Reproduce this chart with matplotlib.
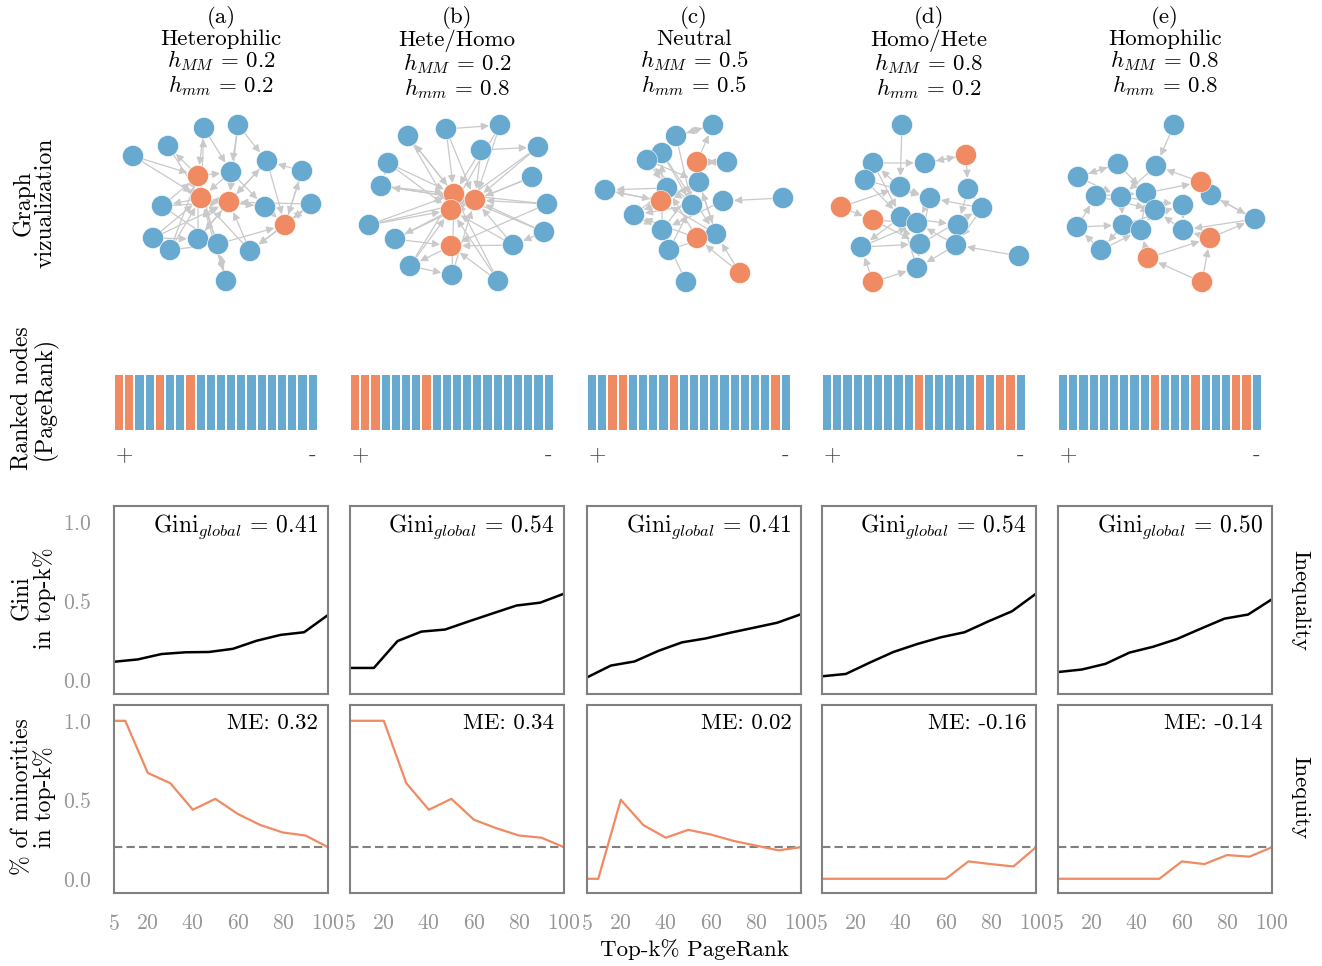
import numpy as np
import matplotlib
matplotlib.use("Agg")
import matplotlib.pyplot as plt
from matplotlib.patches import FancyArrowPatch

W, H = 1322, 966

plt.rcParams['font.family'] = 'serif'
plt.rcParams['font.serif'] = ['cmr10']
plt.rcParams['mathtext.fontset'] = 'cm'
plt.rcParams['axes.unicode_minus'] = False
plt.rcParams['axes.formatter.use_mathtext'] = True

BLUE = '#67a9cf'
ORANGE = '#ef8a62'
EDGE = '#c9c9c9'
GREY = '#808080'
TICK = '#969696'

# --- panel headers ---
panel_tags = ['(a)', '(b)', '(c)', '(d)', '(e)']
panel_names = ['Heterophilic', 'Hete/Homo', 'Neutral', 'Homo/Hete', 'Homophilic']
h_MM = ['0.2', '0.2', '0.5', '0.8', '0.8']
h_mm = ['0.2', '0.8', '0.5', '0.2', '0.8']

# --- graph layouts (node positions, minority nodes, directed edges) ---
a_x = [133, 168, 204, 238, 231, 267, 302, 311, 265, 162, 153, 170, 198, 218, 250, 226, 198, 201, 229, 285]
a_y = [156, 146, 128, 125, 172, 161, 171, 204, 207, 206, 238, 250, 239, 244, 251, 281, 176, 198, 202, 225]
b_x = [408, 446, 500, 481, 538, 388, 381, 532, 547, 369, 395, 544, 513, 410, 452, 498, 454, 475, 451, 451]
b_y = [136, 129, 125, 150, 147, 163, 186, 177, 204, 225, 239, 232, 245, 266, 275, 281, 194, 200, 210, 246]
c_x = [713, 676, 662, 647, 727, 605, 699, 667, 723, 783, 692, 634, 662, 716, 669, 686, 697, 661, 697, 740]
c_y = [125, 136, 153, 160, 162, 190, 182, 188, 201, 198, 205, 215, 230, 234, 250, 282, 162, 201, 238, 273]
d_x = [902, 873, 925, 865, 900, 968, 930, 982, 901, 917, 958, 861, 920, 956, 917, 1019, 966, 841, 873, 873]
d_y = [125, 163, 163, 180, 187, 189, 198, 208, 217, 223, 225, 247, 244, 245, 268, 256, 155, 207, 220, 282]
e_x = [1174, 1118, 1156, 1078, 1096, 1121, 1146, 1211, 1183, 1155, 1255, 1077, 1123, 1141, 1183, 1101, 1201, 1210, 1148, 1202]
e_y = [125, 164, 166, 177, 196, 197, 193, 195, 205, 210, 219, 227, 225, 230, 230, 250, 182, 238, 258, 282]
minority_nodes = [16, 17, 18, 19]

a_edges = [(0, 16), (0, 17), (16, 1), (2, 16), (17, 2), (3, 18), (3, 4), (4, 17), (16, 4), (5, 18),
           (18, 5), (6, 19), (19, 6), (7, 19), (7, 18), (8, 17), (18, 8), (9, 16), (9, 18), (17, 9),
           (10, 17), (10, 18), (11, 16), (11, 17), (12, 18), (18, 12), (13, 17), (13, 19), (14, 17),
           (14, 18), (19, 14), (15, 17), (15, 13), (16, 15), (8, 19), (5, 19), (12, 16), (10, 12),
           (11, 13), (4, 8), (6, 5), (19, 7), (2, 4), (3, 5), (1, 17), (9, 13), (7, 14)]
b_edges = [(0, 16), (0, 18), (1, 16), (1, 17), (2, 17), (2, 18), (3, 16), (3, 17), (4, 17), (4, 18),
           (5, 16), (5, 18), (6, 17), (6, 16), (7, 17), (7, 18), (8, 16), (8, 17), (9, 18), (9, 16),
           (10, 17), (10, 19), (11, 16), (11, 17), (12, 18), (12, 19), (13, 16), (13, 18), (14, 17),
           (14, 16), (15, 18), (15, 19), (16, 0), (17, 6), (18, 10), (19, 13), (1, 2), (3, 4),
           (13, 14), (11, 12), (5, 6), (8, 19), (9, 17), (15, 16), (12, 17)]
c_edges = [(0, 1), (1, 0), (2, 10), (3, 6), (4, 16), (16, 0), (5, 17), (6, 11), (7, 10), (8, 12),
           (9, 8), (10, 3), (11, 7), (12, 2), (13, 17), (14, 13), (15, 12), (17, 5), (18, 11),
           (19, 13), (19, 18), (16, 4), (6, 13), (10, 11), (12, 6), (2, 13), (7, 5), (14, 10),
           (3, 7), (11, 12), (1, 10), (18, 7), (13, 6)]
d_edges = [(0, 4), (1, 2), (3, 6), (4, 1), (2, 16), (16, 2), (5, 10), (6, 9), (7, 6), (8, 11),
           (9, 12), (10, 13), (11, 12), (12, 14), (13, 9), (14, 8), (15, 13), (17, 18), (18, 9),
           (19, 14), (19, 11), (3, 8), (7, 13), (8, 10), (6, 12), (5, 7), (16, 5), (12, 7), (1, 8),
           (4, 6), (11, 9), (13, 14), (17, 4), (18, 12)]
e_edges = [(0, 2), (1, 3), (3, 1), (2, 5), (4, 6), (5, 12), (6, 9), (7, 10), (8, 14), (9, 13),
           (10, 7), (10, 14), (11, 4), (12, 15), (13, 6), (14, 9), (15, 11), (16, 2), (16, 7),
           (17, 14), (17, 10), (18, 13), (18, 17), (19, 18), (19, 17), (3, 5), (11, 12), (5, 8),
           (4, 9), (12, 8), (6, 16), (15, 13), (1, 6)]

# --- PageRank ranking: 1 = minority, 0 = majority (highest rank first) ---
rank_a = [1, 1, 0, 0, 1, 0, 0, 1, 0, 0, 0, 0, 0, 0, 0, 0, 0, 0, 0, 0]
rank_b = [1, 1, 1, 0, 0, 0, 0, 1, 0, 0, 0, 0, 0, 0, 0, 0, 0, 0, 0, 0]
rank_c = [0, 0, 1, 1, 0, 0, 0, 0, 1, 0, 0, 0, 0, 0, 0, 0, 0, 0, 1, 0]
rank_d = [0, 0, 0, 0, 0, 0, 0, 0, 0, 1, 0, 0, 0, 0, 0, 1, 0, 1, 1, 0]
rank_e = [0, 0, 0, 0, 0, 0, 0, 0, 0, 1, 0, 0, 0, 1, 0, 0, 0, 1, 1, 0]

# --- Gini in top-k% ---
topk_gini = [5, 15.6, 26.1, 36.7, 47.2, 57.8, 68.3, 78.9, 89.4, 100]
gini_a = [0.114, 0.129, 0.163, 0.174, 0.176, 0.196, 0.247, 0.284, 0.301, 0.41]
gini_b = [0.075, 0.075, 0.245, 0.305, 0.318, 0.37, 0.42, 0.47, 0.488, 0.545]
gini_c = [0.015, 0.09, 0.116, 0.183, 0.237, 0.262, 0.297, 0.329, 0.361, 0.415]
gini_d = [0.022, 0.037, 0.108, 0.176, 0.226, 0.269, 0.301, 0.37, 0.434, 0.545]
gini_e = [0.049, 0.065, 0.101, 0.172, 0.209, 0.258, 0.323, 0.387, 0.413, 0.51]
gini_global = ['0.41', '0.54', '0.41', '0.54', '0.50']

# --- fraction of minorities in top-k% ---
topk_me = [5, 10, 20, 30, 40, 50, 60, 70, 80, 90, 100]
minor_a = [1.0, 1.0, 0.67, 0.605, 0.437, 0.506, 0.41, 0.34, 0.293, 0.274, 0.2]
minor_b = [1.0, 1.0, 1.0, 0.605, 0.437, 0.506, 0.374, 0.32, 0.274, 0.26, 0.2]
minor_c = [0.0, 0.0, 0.5, 0.34, 0.26, 0.31, 0.28, 0.24, 0.21, 0.18, 0.2]
minor_d = [0.0, 0.0, 0.0, 0.0, 0.0, 0.0, 0.0, 0.11, 0.093, 0.078, 0.2]
minor_e = [0.0, 0.0, 0.0, 0.0, 0.0, 0.0, 0.11, 0.093, 0.15, 0.14, 0.2]
me_values = ['0.32', '0.34', '0.02', '-0.16', '-0.14']
minority_share = 0.2

layouts = [(a_x, a_y, a_edges), (b_x, b_y, b_edges), (c_x, c_y, c_edges),
           (d_x, d_y, d_edges), (e_x, e_y, e_edges)]
rankings = [rank_a, rank_b, rank_c, rank_d, rank_e]
ginis = [gini_a, gini_b, gini_c, gini_d, gini_e]
minors = [minor_a, minor_b, minor_c, minor_d, minor_e]

col_left = [114, 350, 587, 822, 1058]
col_w = 214


def box(left, top, width, height):
    return [left / W, 1 - (top + height) / H, width / W, height / H]


fig = plt.figure(figsize=(W / 100, H / 100), dpi=100)

for i, left in enumerate(col_left):
    cx = (left + col_w / 2) / W
    fig.text(cx, 1 - 6 / H,
             f"{panel_tags[i]}\n{panel_names[i]}\n$h_{{MM}}$ = {h_MM[i]}\n$h_{{mm}}$ = {h_mm[i]}",
             ha='center', va='top', fontsize=16.5, linespacing=1.0)

    # graph visualization
    gx, gy, edges = layouts[i]
    ax = fig.add_axes(box(left - 20, 105, col_w + 40, 195))
    ax.set_xlim(left - 20, left + col_w + 20)
    ax.set_ylim(300, 105)
    ax.axis('off')
    for s, t in edges:
        ax.add_patch(FancyArrowPatch((gx[s], gy[s]), (gx[t], gy[t]), arrowstyle='-|>',
                                     mutation_scale=11, shrinkA=7, shrinkB=8, lw=0.9,
                                     color=EDGE, zorder=1))
    colors = [ORANGE if n in minority_nodes else BLUE for n in range(len(gx))]
    ax.scatter(gx, gy, s=230, c=colors, edgecolors='white', linewidths=0.4, zorder=2)

    # ranked nodes
    ax = fig.add_axes(box(left, 375, col_w, 55))
    rank = rankings[i]
    ax.bar(range(len(rank)), 1, width=0.8, color=[ORANGE if r else BLUE for r in rank])
    ax.set_xlim(-0.5, 20.5)
    ax.set_ylim(0, 1)
    ax.set_yticks([])
    ax.set_xticks([0.5, 19])
    ax.set_xticklabels(['+', '-'], fontsize=16, color='#444444')
    ax.tick_params(axis='x', length=0, pad=11)
    for sp in ax.spines.values():
        sp.set_visible(False)

    # Gini and minority rows
    for r, top in enumerate([506, 705]):
        ax = fig.add_axes(box(left, top, col_w, 188))
        if r == 0:
            ax.plot(topk_gini, ginis[i], color='black', lw=1.8)
            ax.text(0.955, 0.965, rf"Gini$_{{global}}$ = {gini_global[i]}",
                    transform=ax.transAxes, ha='right', va='top', fontsize=17)
        else:
            ax.axhline(minority_share, color=GREY, lw=1.5, ls='--', dashes=(4, 2))
            ax.plot(topk_me, minors[i], color=ORANGE, lw=1.6)
            ax.text(0.955, 0.955, f"ME: {me_values[i]}",
                    transform=ax.transAxes, ha='right', va='top', fontsize=16.5)
        ax.set_xlim(5, 100)
        ax.set_ylim(-0.09, 1.1)
        ax.set_yticks([0.0, 0.5, 1.0])
        ax.set_xticks([5, 20, 40, 60, 80, 100])
        ax.tick_params(length=0, labelsize=15.5, labelcolor=TICK)
        ax.tick_params(axis='y', pad=16)
        ax.tick_params(axis='x', pad=15)
        if i > 0:
            ax.set_yticklabels([])
        if r == 0:
            ax.set_xticklabels([])
        for sp in ax.spines.values():
            sp.set_color(GREY)
            sp.set_linewidth(1.5)

row_labels = [("Graph\nvizualization", 203), ("Ranked nodes\n(PageRank)", 398),
              ("Gini\nin top-k%", 598), ("% of minorities\nin top-k%", 797)]
for txt, y in row_labels:
    fig.text(34 / W, 1 - y / H, txt, rotation=90, ha='center', va='center',
             fontsize=17, linespacing=1.0, multialignment='center')

fig.text(1300 / W, 1 - 600 / H, "Inequality", rotation=270, ha='center', va='center', fontsize=16.5)
fig.text(1300 / W, 1 - 798 / H, "Inequity", rotation=270, ha='center', va='center', fontsize=16.5)
fig.text(694 / W, 1 - 950 / H, "Top-k% PageRank", ha='center', va='center', fontsize=16.5)

fig.savefig("out.png", dpi=100)
